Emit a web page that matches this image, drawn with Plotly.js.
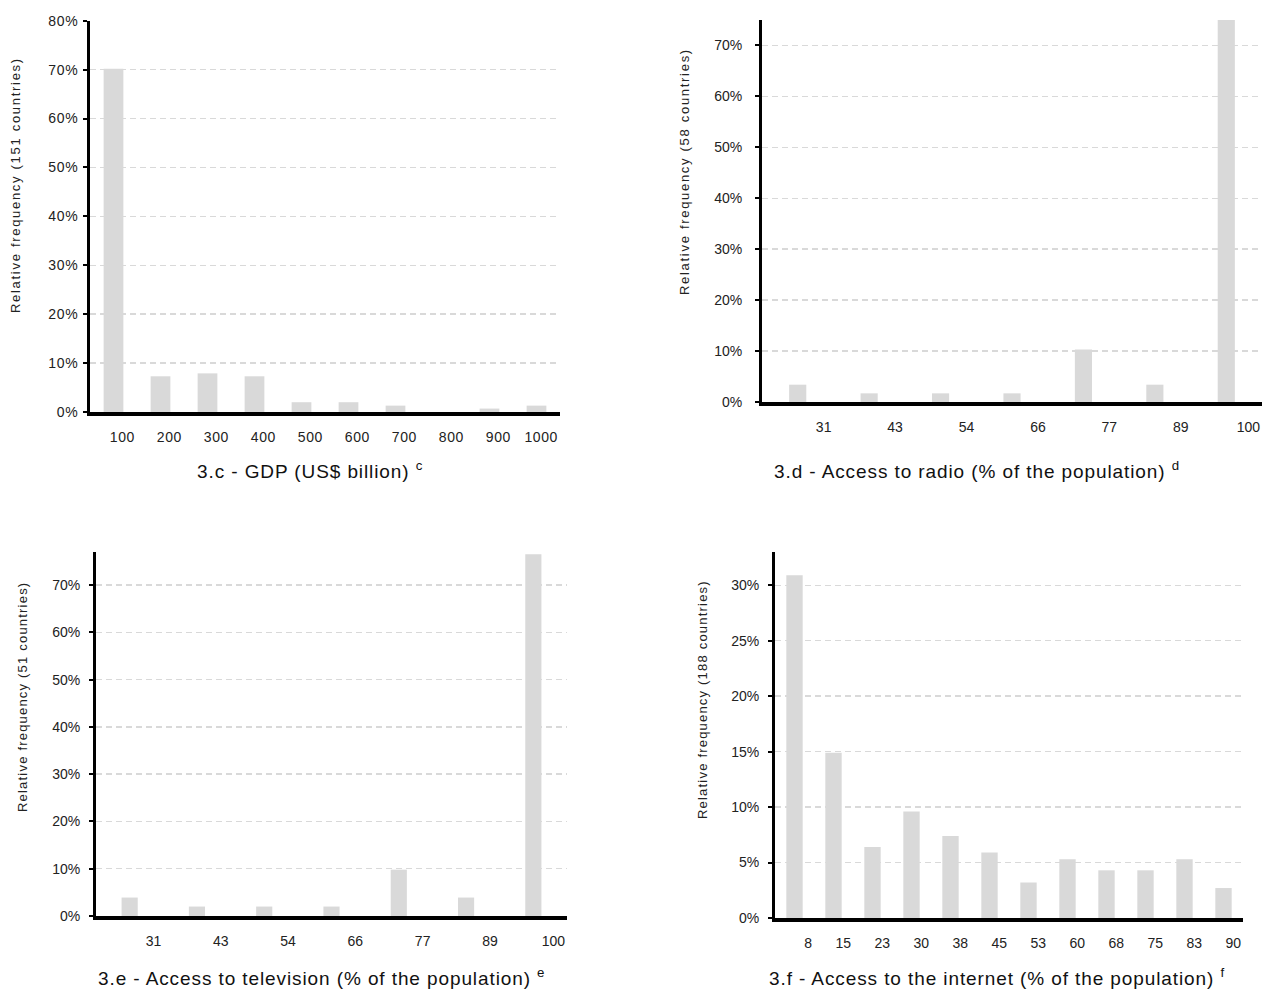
<!DOCTYPE html>
<html>
<head>
<meta charset="utf-8">
<script src="https://cdn.plot.ly/plotly-3.0.1.min.js"></script>
<style>
html,body{margin:0;padding:0;background:#fff;overflow:hidden}
.xtick text,.ytick text{letter-spacing:0.6px}
</style>
</head>
<body>
<div id="chart" style="width:1263px;height:989px"></div>
<script>
// ---- data (relative frequencies, %) ----
const gdpLabels = ['100','200','300','400','500','600','700','800','900','1000'];
const gdpValues = [70.2, 7.3, 7.9, 7.3, 2.0, 2.0, 1.3, 0, 0.7, 1.3];

const radioLabels = ['31','43','54','66','77','89','100'];
const radioValues = [3.4, 1.7, 1.7, 1.7, 10.3, 3.4, 77.6];

const tvLabels = ['31','43','54','66','77','89','100'];
const tvValues = [3.9, 2.0, 2.0, 2.0, 9.8, 3.9, 76.5];

const netLabels = ['8','15','23','30','38','45','53','60','68','75','83','90'];
const netValues = [30.9, 14.9, 6.4, 9.6, 7.4, 5.9, 3.2, 5.3, 4.3, 4.3, 5.3, 2.7];

const yTitles = ['Relative frequency (151 countries)','Relative frequency (58 countries)',
                 'Relative frequency (51 countries)','Relative frequency (188 countries)'];
const xTitles = ['3.c - GDP (US$ billion)','3.d - Access to radio (% of the population)',
                 '3.e - Access to television (% of the population)','3.f - Access to the internet (% of the population)'];
const xNotes = ['c','d','e','f'];

// ---- layout geometry (pixels) ----
const W = 1263, H = 989;
const fx = x => x / W, fy = y => 1 - y / H;
const panels = [
  {labels: gdpLabels,   values: gdpValues,   x0: 90,  x1: 560,  top: 20.7, bot: 412, ymax: 80, dtick: 10, bw: 0.42, ysd: 2,  ytSp: 1.7, yt: [16, 185],  xt: [310, 470]},
  {labels: radioLabels, values: radioValues, x0: 762, x1: 1262, top: 20,   bot: 402, ymax: 75, dtick: 10, bw: 0.24, ysd: 10, ytSp: 1.7, yt: [684, 172], xt: [977, 470]},
  {labels: tvLabels,    values: tvValues,    x0: 96,  x1: 567,  top: 552,  bot: 916, ymax: 77, dtick: 10, bw: 0.24, ysd: 6,  ytSp: 1.2, yt: [22, 697],  xt: [321, 977]},
  {labels: netLabels,   values: netValues,   x0: 775, x1: 1243, top: 552,  bot: 918, ymax: 33, dtick: 5,  bw: 0.42, ysd: 6,  ytSp: 1.2, yt: [702, 700], xt: [997, 977]}
];

const FAM = 'Liberation Sans, Arial, sans-serif';
const tickFont = {family: FAM, size: 14, color: '#222'};
const traces = [];
const layout = {
  width: W, height: H,
  margin: {l: 0, r: 0, t: 0, b: 0},
  paper_bgcolor: '#fff', plot_bgcolor: '#fff',
  font: {family: FAM, color: '#222'},
  showlegend: false,
  annotations: []
};

panels.forEach((p, k) => {
  const s = k === 0 ? '' : String(k + 1);
  traces.push({
    type: 'bar',
    x: p.values.map((_, i) => i),
    y: p.values,
    xaxis: 'x' + s, yaxis: 'y' + s,
    width: p.bw,
    marker: {color: '#d9d9d9', line: {width: 0}},
    hoverinfo: 'skip'
  });
  layout['xaxis' + s] = {
    domain: [fx(p.x0), fx(p.x1)],
    range: [-0.5, p.labels.length - 0.5],
    anchor: 'y' + s,
    showline: true, linecolor: '#000', linewidth: 4,
    ticks: '', showgrid: false, zeroline: false,
    tickmode: 'array',
    tickvals: p.labels.map((_, i) => i + 0.5),
    ticktext: p.labels,
    ticklabelposition: 'outside left',
    ticklabelstandoff: 9,
    tickfont: tickFont,
    fixedrange: true
  };
  layout['yaxis' + s] = {
    domain: [fy(p.bot), fy(p.top)],
    range: [0, p.ymax],
    anchor: 'x' + s,
    showline: true, linecolor: '#000', linewidth: 3,
    ticks: 'outside', ticklen: 4, tickwidth: 2, tickcolor: '#000',
    tick0: 0, dtick: p.dtick, ticksuffix: '%',
    showgrid: true, gridcolor: '#d9d9d9', gridwidth: 1.5, griddash: '6px,4px',
    zeroline: false,
    tickfont: tickFont,
    ticklabelstandoff: p.ysd,
    fixedrange: true
  };
  layout.annotations.push({
    text: '<span style="letter-spacing:' + p.ytSp + 'px">' + yTitles[k] + '</span>',
    xref: 'paper', yref: 'paper',
    x: fx(p.yt[0]), y: fy(p.yt[1]), xanchor: 'center', yanchor: 'middle',
    textangle: -90, showarrow: false,
    font: {family: FAM, size: 13, color: '#222'}
  });
  layout.annotations.push({
    text: '<span style="letter-spacing:0.9px">' + xTitles[k] + ' <sup>' + xNotes[k] + '</sup></span>',
    xref: 'paper', yref: 'paper',
    x: fx(p.xt[0]), y: fy(p.xt[1]), xanchor: 'center', yanchor: 'middle',
    showarrow: false,
    font: {family: FAM, size: 19, color: '#111'}
  });
});

Plotly.newPlot('chart', traces, layout, {displayModeBar: false, staticPlot: true});
</script>
</body>
</html>
